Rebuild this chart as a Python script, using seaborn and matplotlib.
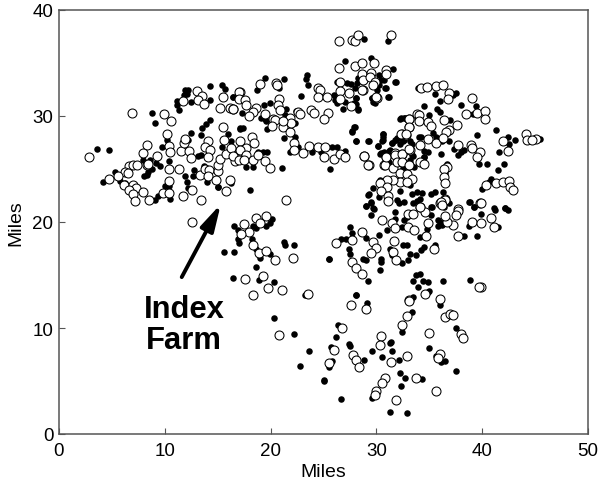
#!/usr/bin/env python3
"""farm locations, filled and open markers, with the index farm marked"""

import matplotlib.pyplot as plt
import pandas as pd
import seaborn as sns

# (x miles, y miles)
filled_farms = [
    (3.6,26.9),(4.7,26.8),(5.25,24.7),(4.2,23.8),(5.8,23.9),(6.2,23.65),(7.9,25.85),(8.6,25.85),(9.2,25.6),(9.5,25.3),
    (8.8,25),(8.4,24.75),(8,24.3),(8.3,24.4),(10.4,25.75),(9.75,27.05),(10.2,27.7),(8.8,30.3),(9.1,29.3),(12.5,28.4),
    (13.4,28.2),(13.5,28.9),(13.9,29.2),(14.3,29.6),(14.3,31.5),(12.5,31.3),(11.2,31.45),(11.2,31),(11.3,30.6),(11.9,32.45),
    (12.2,32.45),(11.8,32),(12.1,32.1),(14.3,32.8),(15.4,32.9),(15.7,32.55),(16.45,31.8),(13.1,26.2),(13.45,26.3),(13.7,25.3),
    (12.8,24.9),(12.7,24.3),(11.9,24.3),(12.1,23.75),(12.2,23.2),(14,23.8),(15,23.3),(10,23.35),(10.4,23.4),(10.5,22.2),
    (9.4,22.5),(9.1,22.1),(16.3,23.65),(15.4,27.1),(15.95,28.3),(16.1,26.8),(15.95,26.6),(17.1,28.8),(12.2,27.75),
    (28.8,37.25),(31.1,37.1),(29.5,35.45),(27,35.2),(31.6,34.4),(31.85,33.25),(33.95,32.6),(19.5,33.6),(18.7,32.5),(21.3,33.5),
    (20.8,32.6),(23.4,33.9),(23.3,33.5),(23.5,32.9),(22.9,31.9),(16.45,31.8),(17.3,30.3),(19.4,31),(19.9,31.2),(19.1,29.8),
    (19.45,29.7),(19.6,29.5),(19.7,28.8),(21.5,30.7),(21.35,30.1),(22.4,30.5),(22.3,29.3),(17.1,28.9),(17.4,28.9),(21.3,27.9),
    (22.3,28),(22.6,27.1),(21.8,26.6),(19.7,26.65),(19.3,26.65),(23.9,26.6),(24.8,26.6),(25.8,27.1),(26.25,27.1),(27,26.7),
    (25.6,25),(21.1,25.1),(26.25,33.2),(27.2,33.1),(27.6,33),(28.3,33.55),(28.2,33.1),(28,32.6),(30.2,33.9),(30.4,33.4),
    (30.7,33.4),(30.2,32.9),(30.05,32.45),(30.9,32.6),(31.15,31.8),(26,32),(26.1,31.5),(26.25,31.2),(27,31.35),(26.8,30.7),
    (28.1,31.7),(27.9,31.2),(28.3,30.7),(29.6,31.7),(29.8,31.35),(28,29),(27.7,28.55),(28.1,27.6),(29.3,27.6),(30.6,28.3),
    (30.6,27.7),(30.15,27.2),(31.3,26.8),(30.4,26.5),(30.7,26.6),(31.85,27.7),(32.3,29.8),(32.75,29.85),(31.5,27.5),(31.95,27.9),
    (32.6,27.7),(33.2,27.6),(33.4,26.3),(32.6,25.7),(34,28),(18.35,25.2),(17.7,25.2),(16.3,27.6),(18.8,26.65),
    (31.8,33.2),(31.1,31.8),(34.5,30.9),(35.7,30.65),(36.05,30.4),(36.05,31.45),(35.5,32.1),(37.5,32.15),(37.2,32),(38,31),
    (39.4,30.9),(39.1,30.2),(35,30.1),(32.65,29.85),(32.2,29.7),(37,29.6),(41.3,28.7),(39.5,28.2),(42.4,28.05),(43.1,27.7),
    (42.5,27.4),(45.5,27.8),(41.6,26.6),(42.05,25.5),(41.45,24.9),(40.5,25.5),(39.7,25.5),(38.25,26.8),(38,26.65),(37.35,26.9),
    (37.7,26.3),(36.15,26.45),(36.65,25.5),(36.5,24.6),(34.5,26.1),(34.9,26.6),(34.5,26.7),(34.2,28),(35.35,28.4),(35.6,28.05),
    (36.9,27.6),(36.2,27.6),(27.9,29),(27.7,28.5),(28.1,27.6),(29.2,27.6),(30.6,28.3),(30.5,27.6),(30.65,28.05),(30.15,27.2),
    (31.5,27.5),(31.8,27.7),(32.2,27.9),(32.55,27.6),(32.25,27.4),(30.3,26.4),(30.65,26.55),(31.2,26.7),(33.35,27.4),(33.5,26.2),
    (33.2,25.85),(31.2,25.65),(32.55,25.05),(33.6,25.2),(34.5,26.15),(40,23.1),(40.85,24.1),(40.6,23.8),(33.2,23.5),(30.3,24),
    (29.7,23.2),(29.2,22.55),(30.2,22.4),(32.25,22.9),(29.5,21.8),(29,21.5),(29.7,21.3),(31.9,22.1),(32.65,21.85),(32.1,21.8),
    (33.35,22.6),(33.8,22.8),(34.3,22.7),(35.2,22.6),(35.5,22.8),(36.3,22.8),(33.8,22),(34.15,22.15),(33.5,21.8),(35.25,21.4),
    (36.9,21.75),(38.75,21.9),(39.2,21.4),(41.1,21.35),(42.15,21.35),(36.35,21.4),(28.1,31.7),(28.1,31.1),(28.3,30.6),(29.55,31.7),
    (29.7,31.35),(29.9,31.2),(30.8,32.6),
    (25.5,16.5),(27.5,19.5),(27.7,19),(26.7,18.4),(27.1,18.4),(29,18.5),(30.2,18.8),(31,19.2),(27.4,17.5),(27.5,17),
    (28.7,16.5),(29,16.4),(30.4,16.5),(30.4,16.2),(30.3,15.45),(29.25,14.4),(28.1,13.1),(31.3,17.45),(31.5,16.9),(32.4,16.15),
    (33,16.4),(32.5,17.8),(32.85,17.8),(33.2,17),(33.75,16.85),(34.2,17.35),(34.5,17.65),(35.5,17.8),(34.1,18.6),(34.8,19.3),
    (32.4,19.55),(31.8,20.9),(31.8,20.3),(32.6,20.2),(32.9,20.5),(35.2,20.65),(35.2,21.45),(35.8,20.2),(35.8,19.6),(36.2,19.75),
    (36.05,20),(38.75,19.6),(38.3,18.7),(39.5,18.7),(39.85,20.8),(41.2,21.1),(42.2,21.3),(42.4,21.1),(41.45,19.55),(38.8,21.85),
    (39.25,21.4),(29.3,22.6),(29,21.5),(29.5,21.85),(29.8,21.2),(29.5,20.7),(33.5,14.4),(33.7,15),(34.1,15.1),(33.95,13.9),
    (34.45,14.4),(34.9,14.3),(36.3,14.4),(38.8,14.5),(34.9,13.4),(33.5,12.95),
    (16.5,19.65),(16.9,19.2),(16.9,18.4),(17,18.05),(18.2,18.4),(18.35,19.6),(18.66,19.4),(19.55,19.65),(19.9,19.9),(20.1,20.25),
    (18.5,20.5),(15.6,17.2),(16.5,17.2),(21.25,18.15),(21.4,17.8),(22.2,17.8),(18.66,17.5),(19,16.6),(19.9,17),(18.6,15.8),
    (16.45,14.75),(18.9,14.5),(20.3,14.3),(25.5,16.5),(20.3,10.9),(23.25,13.1),
    (28.1,13.1),(29.1,12.4),(34.95,13.5),(36,12.2),(33.4,11.5),(37.5,10),(32.4,9.6),(26.4,10.3),(26.2,9.15),(23.6,7.86),
    (22.8,6.45),(25.7,8.2),(27.4,8.45),(27.5,8.3),(25.8,6.9),(25.5,6.3),(25,5.1),(25,5),(26.7,3.3),(29.6,7.86),
    (28.8,7),(30.55,7.27),(31.5,7.86),(31.3,8.6),(31.4,8.7),(32.1,7),(35,8.1),(35.6,7.4),(36.1,6.8),(36.45,6.9),
    (37.5,5.9),(32.2,5.75),(32.7,5.3),(34.3,5.2),(32.3,4.5),(29.6,3.4),(31.25,2.1),(32.9,2),(39.6,13.9),
    (18.1,23),(22.2,9.4),(15,23.3),
]

open_farms = [
    (2.8,26.1),(6.9,30.3),(9.97,30.2),(10.6,29.5),(10.2,28.3),(8.3,27.3),(7.9,26.5),(9.3,26.2),(10.4,27.2),(10.5,26.6),
    (11.5,26.7),(11.8,27.5),(11.9,27.8),(12.3,26.7),(12.5,26),(14.1,27.6),(13.8,27.1),(14.3,26.8),(14.1,26.1),(15.6,27.7),
    (15.5,29),(15.2,30.8),(16.2,30.8),(16.4,30.7),(15.5,31.8),(17.1,32.3),(13,32.4),(13.5,31.9),(13.1,31.5),(13.7,31.1),
    (11.7,31.4),(6.6,25.3),(6.96,25.35),(7.4,25.4),(8.3,25.4),(8.4,25.5),(6.2,24.7),(6.5,24.6),(5.6,24.3),(4.7,24.1),
    (6.1,23.5),(7,23.5),(7.3,23.2),(6.6,23),(6.96,22.6),(7.9,22.8),(7.15,22),(8.5,22.1),(9.8,22.7),(10.4,22.7),
    (10.4,23.9),(10.35,25),(11.3,25),(12.6,23),(11.7,22.5),(13.4,22.1),(13.35,24.4),(13.8,25),(14.2,24.9),(14.1,24.3),
    (15,24.8),(15,25.4),(14.8,24),(15.2,25.9),(15.8,22.9),(16.2,24),(15.8,26.4),(16.6,25.8),(16.9,26.6),(16.5,26.3),
    (26.45,37.1),(27.7,37.2),(28,37.1),(28.3,37.6),(31.4,37.6),(28,34.75),(28.6,35),(29.8,35),(26.45,34.5),(26.6,33.2),
    (28.6,34),(29.5,34.1),(30.9,34.3),(30.9,34),(28.7,33.4),(29.4,33.65),(29.9,33.2),(29.7,32.9),(28.7,32.5),(26.6,32.4),
    (27.4,32.2),(26.6,31.6),(30.1,31.7),(27.6,30.9),(24.5,32.6),(24.7,32.45),(24.45,31.8),(25.3,31.8),(23.8,30.6),(24.1,30.3),
    (25.4,30.3),(25,29.7),(19,33),(20.5,33.1),(20.6,32.9),(20.8,31.6),(20.7,31.05),(20.9,30.6),(17,32.3),(17,31.6),
    (17.6,31.5),(17.7,31),(18.6,30.75),(16.45,30.7),(18.3,30.4),(18,30),(22.6,30.35),(22.8,30.2),(21.8,29.85),(20.2,29.75),
    (20.4,29.6),(19.5,30.2),(20.1,29.1),(21.2,29),(21.8,28.5),(21.9,29.3),(21.2,29.5),(22.2,27.5),(22.2,26.8),(23.1,26.5),
    (23.6,27.2),(24.45,27.05),(25.15,27.05),(25,26.1),(26,25.9),(26.6,26.4),(27,26.1),(28.8,26.2),(29.3,25.4),(30.75,25.4),
    (30.9,26.1),(31.8,26.5),(32.4,26.4),(32.4,28.3),(32.8,28.2),(33.1,29),(33.1,29.7),(33.85,30.2),(33.2,26.8),(33.1,25.4),
    (18.2,28),(18.4,27.5),(17.1,27.6),(17.7,26.95),(17.1,26.8),(16.3,27),(16.45,26.2),(17.7,26.3),(17,25.85),(17.45,25.85),
    (18.35,25.85),(18.8,26.3),(19.45,25.75),(19.9,25.05),
    (34.25,32.6),(34.8,32.75),(35.6,32.8),(36.3,32.9),(36.9,32.2),(36.8,31.6),(39,31.7),(38.5,30.2),(39.5,30.3),(40.3,30.5),
    (40.3,29.7),(34,30.1),(34.05,29.5),(34.9,29.4),(35.2,29.1),(36.4,29.6),(37.6,29.15),(36.9,28.7),(36.6,28.5),(33.1,29.7),
    (33.1,29),(44.1,28.3),(44.2,27.7),(45.1,27.8),(44.7,27.75),(42,27.6),(42.4,26.7),(38.9,27.3),(39.05,27),(39.8,26.6),
    (39.5,26.1),(37.7,27.3),(36.7,25.2),(36.4,25),(36.4,24.25),(36.5,23.7),(28.8,26.2),(29.2,25.4),(30.8,25.4),(30.9,26.1),
    (31.8,26.3),(32.4,26.45),(33.1,26.85),(32.3,28.3),(32.8,28.3),(34.15,27.3),(34.9,27.8),(35.6,27.5),(36.3,27.95),(31.6,25.05),
    (32.2,24.65),(31.9,25.7),(32.4,25.7),(32.9,24.55),(33.1,25.4),(33.35,24.1),(34.1,25.7),(34.5,25.5),(32.2,23.8),(32.9,23.8),
    (31.6,24),(31,24),(30.35,23.65),(31,23.3),(30.4,22.9),(31.1,22.45),(31.1,22),(36.45,22.15),(36.05,21.75),(39.8,21.75),
    (41.3,23.65),(41.95,23.8),(42.5,23.9),(42.6,23.3),(42.9,23.05),(40.4,23.5),(34.15,21.45),(37.7,21.2),(28.6,32.45),(30,31.8),
    (37.7,21.06),(37.55,20.65),(37.2,19.75),(36.7,20),(36.5,20.6),(30.5,20.2),(31.5,19.9),(31.75,19.4),(33,19.5),(33.6,19.25),
    (33,20.8),(33.5,20.8),(34.6,20.9),(34.9,19.9),(34.7,18.7),(31.7,18.25),(35.4,17.45),(31.6,17.2),(31.85,16.4),(28.6,19.1),
    (27.7,18.3),(26.2,18),(29.7,18.15),(30,17.55),(29.5,17.1),(27.7,16.2),(28.1,15.7),(28.6,15.1),(37.7,18.7),(39,20),
    (39.9,19.9),(40.8,20.4),(41.1,19.55),(39.9,21.75),(34.6,13.25),(33.05,12.65),(36,12.7),(39.9,13.9),(39.7,13.9),(36.5,22.1),
    (36.1,21.85),(36.2,21.6),(34.15,21.4),
    (18.66,20.4),(19.6,20.6),(17.5,19.8),(18,19.1),(17.2,18.9),(19,19.9),(18.3,17.8),(18.9,17.1),(19.6,17.3),(20.4,16.4),
    (22.1,16.6),(17.6,14.65),(19.3,14.9),(19.8,13.8),(21.1,13.6),(18.3,13.1),(23.5,13.25),(21.5,22.1),
    (27.6,12.2),(29,11.8),(33.1,12.55),(32.9,11.1),(32.4,10.3),(35,9.5),(36.5,11),(37,11.35),(37.2,11.2),(38,9.4),
    (38.2,9.1),(26.75,9.97),(30.4,9.25),(30.3,8.43),(26,7.96),(25.5,6.7),(27.8,7.5),(28.1,7),(28.4,6.35),(31.4,6.8),
    (32.9,7.4),(36,7.55),(35.85,7.17),(30.8,5.3),(30.55,4.8),(33.7,5.3),(30,4.1),(29.9,3.65),(35.6,4.1),(31.85,3.2),
    (12.56,20.03),(20.8,9.3),
]

x_ticks = [0, 10, 20, 30, 40, 50]
y_ticks = [0, 10, 20, 30, 40]

plt.rcParams['font.family'] = ['Liberation Sans', 'DejaVu Sans']

filled = pd.DataFrame(filled_farms, columns=['x', 'y'])
hollow = pd.DataFrame(open_farms, columns=['x', 'y'])

fig = plt.figure(figsize=(6.03, 4.85), dpi=100)
ax = fig.add_axes([59 / 603, 1 - 435 / 485, 529 / 603, 424 / 485])

sns.scatterplot(data=filled, x='x', y='y', ax=ax, color='black', s=22, linewidth=0, zorder=2, clip_on=False)
sns.scatterplot(data=hollow, x='x', y='y', ax=ax, facecolor='white', edgecolor='black', s=42, linewidth=0.75, zorder=3, clip_on=False)

ax.set_xlim(0, 50)
ax.set_ylim(0, 40)
ax.set_xticks(x_ticks)
ax.set_yticks(y_ticks)
ax.tick_params(direction='in', length=4, width=0.8, color='#555555', labelsize=13.5)
ax.tick_params(axis='x', pad=6)
ax.tick_params(axis='y', pad=4)
ax.set_xlabel('Miles', fontsize=14, labelpad=3)
ax.set_ylabel('Miles', fontsize=14, labelpad=6)
for spine in ax.spines.values():
    spine.set_linewidth(1.1)
    spine.set_color('#555555')

ax.annotate('', xy=(15.3, 21.7), xytext=(11.6, 14.8),
            arrowprops=dict(arrowstyle='-|>,head_length=1.6,head_width=0.42', color='black', lw=2.8, shrinkA=0, shrinkB=0))
ax.text(11.8, 10.3, 'Index\nFarm', fontsize=22.3, fontweight='bold', ha='center', va='center', linespacing=1.05)

fig.savefig('out.png', dpi=100)
